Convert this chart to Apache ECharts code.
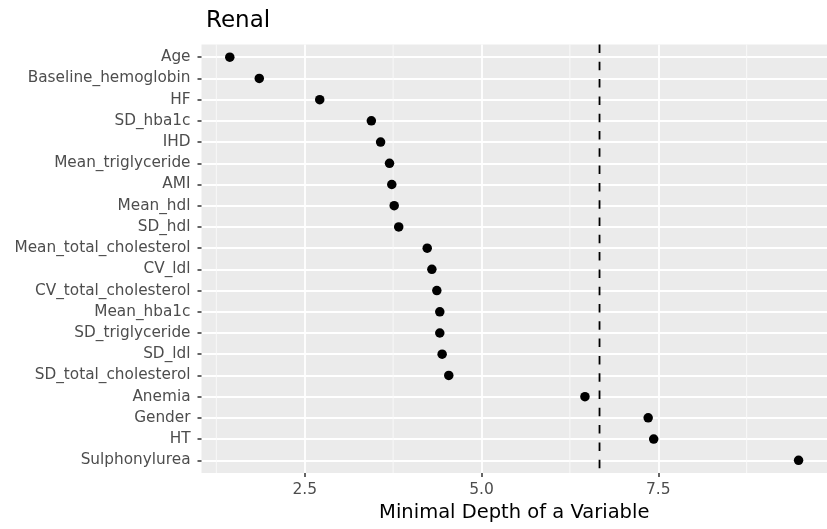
<!DOCTYPE html>
<html>
<head>
<meta charset="utf-8">
<script src="https://cdn.jsdelivr.net/npm/echarts@6/dist/echarts.min.js"></script>
<style>
  html, body { margin: 0; padding: 0; background: #fff; }
  #app { width: 827px; height: 529px; }
</style>
</head>
<body>
<div id="app"></div>
<script>
const variables = [
  "Age", "Baseline_hemoglobin", "HF", "SD_hba1c", "IHD", "Mean_triglyceride",
  "AMI", "Mean_hdl", "SD_hdl", "Mean_total_cholesterol", "CV_ldl",
  "CV_total_cholesterol", "Mean_hba1c", "SD_triglyceride", "SD_ldl",
  "SD_total_cholesterol", "Anemia", "Gender", "HT", "Sulphonylurea"
];
const minDepth = [
  1.44, 1.857, 2.712, 3.442, 3.573, 3.699, 3.731, 3.765, 3.829, 4.232,
  4.298, 4.368, 4.41, 4.41, 4.443, 4.537, 6.463, 7.357, 7.435, 9.484
];
const xTicks = [2.5, 5.0, 7.5];
const xMinorTicks = [1.25, 3.75, 6.25, 8.75];
const meanDepth = [6.669];

const FONT = "DejaVu Sans";
const rowIdx = variables.map((_, i) => i);

const myChart = echarts.init(document.getElementById("app"));

// vertical line spanning the panel, placed by the x axis
const vLines = (values, style, z) => ({
  type: "custom",
  z: z,
  silent: true,
  data: values.map((v) => [v, 0]),
  encode: { x: 0, y: 1 },
  renderItem: (params, api) => {
    const cs = params.coordSys;
    const x = api.coord([api.value(0), 0])[0];
    return {
      type: "line",
      shape: { x1: x, y1: cs.y, x2: x, y2: cs.y + cs.height },
      style: style
    };
  }
});

myChart.setOption({
  animation: false,
  title: {
    text: "Renal",
    left: 201,
    top: 5,
    textStyle: { fontFamily: FONT, fontSize: 23, fontWeight: "normal", color: "#000" }
  },
  grid: {
    left: 201.5,
    top: 44.5,
    width: 631,
    height: 428.5,
    show: true,
    backgroundColor: "#ebebeb",
    borderWidth: 0
  },
  xAxis: {
    type: "value",
    min: 1.04,
    max: 9.886,
    name: "Minimal Depth of a Variable",
    nameLocation: "middle",
    nameGap: 30,
    nameTextStyle: { fontFamily: FONT, fontSize: 19.5, color: "#000" },
    axisLine: { show: false, onZero: false },
    splitLine: { show: true, lineStyle: { color: "#fff", width: 1.8 } },
    axisTick: {
      show: true,
      customValues: xTicks,
      length: 4,
      lineStyle: { color: "#333", width: 1.5 }
    },
    axisLabel: {
      customValues: xTicks,
      margin: 9,
      fontFamily: FONT,
      fontSize: 15.5,
      color: "#4d4d4d",
      formatter: (v) => v.toFixed(1)
    }
  },
  yAxis: {
    type: "value",
    inverse: true,
    min: -0.6,
    max: 19.6,
    axisLine: { show: false, onZero: false },
    splitLine: { show: true, lineStyle: { color: "#fff", width: 1.8 } },
    axisTick: {
      show: true,
      customValues: rowIdx,
      length: 4,
      lineStyle: { color: "#333", width: 1.5 }
    },
    axisLabel: {
      customValues: rowIdx,
      margin: 11,
      fontFamily: FONT,
      fontSize: 15.3,
      color: "#4d4d4d",
      formatter: (v) => variables[Math.round(v)]
    }
  },
  series: [
    vLines(xMinorTicks, { stroke: "#fafafa", lineWidth: 0.9 }, 1),
    vLines(meanDepth, { stroke: "#000", lineWidth: 1.8, lineDash: [8.5, 8.8] }, 2),
    {
      type: "scatter",
      z: 3,
      symbolSize: 9.5,
      itemStyle: { color: "#000", opacity: 1 },
      data: minDepth.map((v, i) => [v, i])
    }
  ]
});
</script>
</body>
</html>
